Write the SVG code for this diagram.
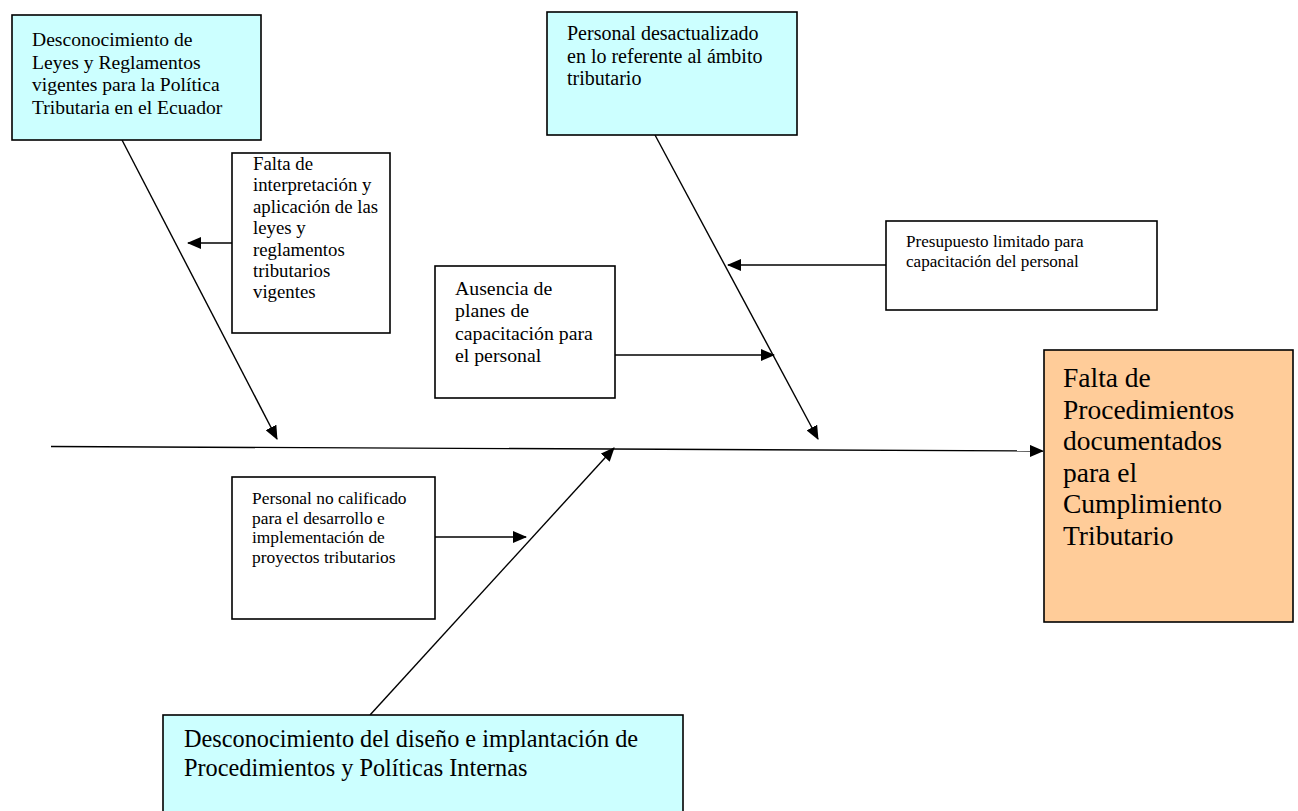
<svg xmlns="http://www.w3.org/2000/svg" width="1298" height="811" viewBox="0 0 1298 811">
<defs>
<marker id="ah" markerUnits="userSpaceOnUse" markerWidth="14" markerHeight="12" refX="13" refY="6" orient="auto">
<path d="M0,0 L14,6 L0,12 Z" fill="#000"/>
</marker>
<style>
.box{stroke:#000;stroke-width:1.6}
.cy{fill:#CCFFFF}
.or{fill:#FFCC99}
.wh{fill:#FFFFFF}
.t{font-family:'Liberation Serif','Times New Roman','DejaVu Serif',serif;fill:#000}
.ln{stroke:#000;stroke-width:1.4;fill:none}
.ar{stroke:#000;stroke-width:1.4;fill:none;marker-end:url(#ah)}
</style>
</defs>
<rect width="1298" height="811" fill="#fff"/>
<g id="connectors">
<line class="ar" x1="51" y1="446.5" x2="1043" y2="451"/>
<line class="ar" x1="122" y1="140" x2="277" y2="439"/>
<line class="ar" x1="655" y1="135" x2="818" y2="439"/>
<line class="ar" x1="370" y1="715" x2="614" y2="448"/>
<line class="ar" x1="232" y1="243" x2="188" y2="243"/>
<line class="ar" x1="886" y1="265" x2="728" y2="265"/>
<line class="ar" x1="615" y1="355" x2="774" y2="355"/>
<line class="ar" x1="435" y1="537" x2="526" y2="537"/>
</g>
<g id="n1">
<rect class="box cy" x="12" y="15" width="249" height="125"/>
<text class="t" font-family="Liberation Serif, serif" font-size="19.6"><tspan x="32" y="46">Desconocimiento de</tspan><tspan x="32" y="68.7">Leyes y Reglamentos</tspan><tspan x="32" y="91.4">vigentes para la Política</tspan><tspan x="32" y="114">Tributaria en el Ecuador</tspan></text>
</g>
<g id="n2">
<rect class="box cy" x="547" y="12" width="250" height="123"/>
<text class="t" font-family="Liberation Serif, serif" font-size="20"><tspan x="567" y="40">Personal desactualizado</tspan><tspan x="567" y="62.5">en lo referente al ámbito</tspan><tspan x="567" y="85">tributario</tspan></text>
</g>
<g id="n3">
<rect class="box wh" x="232" y="153" width="158" height="180"/>
<text class="t" font-family="Liberation Serif, serif" font-size="18.8"><tspan x="253" y="170">Falta de</tspan><tspan x="253" y="191.4">interpretación y</tspan><tspan x="253" y="212.8">aplicación de las</tspan><tspan x="253" y="234.2">leyes y</tspan><tspan x="253" y="255.6">reglamentos</tspan><tspan x="253" y="277">tributarios</tspan><tspan x="253" y="298.4">vigentes</tspan></text>
</g>
<g id="n4">
<rect class="box wh" x="435" y="266" width="180" height="132"/>
<text class="t" font-family="Liberation Serif, serif" font-size="19.8"><tspan x="455" y="295">Ausencia de</tspan><tspan x="455" y="317.3">planes de</tspan><tspan x="455" y="339.6">capacitación para</tspan><tspan x="455" y="362">el personal</tspan></text>
</g>
<g id="n5">
<rect class="box wh" x="886" y="221" width="271" height="89"/>
<text class="t" font-family="Liberation Serif, serif" font-size="17.1"><tspan x="906" y="247">Presupuesto limitado para</tspan><tspan x="906" y="267">capacitación del personal</tspan></text>
</g>
<g id="n6">
<rect class="box or" x="1044" y="350" width="249" height="272"/>
<text class="t" font-family="Liberation Serif, serif" font-size="27.5"><tspan x="1063" y="387">Falta de</tspan><tspan x="1063" y="418.5">Procedimientos</tspan><tspan x="1063" y="450">documentados</tspan><tspan x="1063" y="481.5">para el</tspan><tspan x="1063" y="513">Cumplimiento</tspan><tspan x="1063" y="544.5">Tributario</tspan></text>
</g>
<g id="n7">
<rect class="box wh" x="232" y="477" width="203" height="142"/>
<text class="t" font-family="Liberation Serif, serif" font-size="17.4"><tspan x="252" y="504">Personal no calificado</tspan><tspan x="252" y="523.7">para el desarrollo e</tspan><tspan x="252" y="543.4">implementación de</tspan><tspan x="252" y="563">proyectos tributarios</tspan></text>
</g>
<g id="n8">
<rect class="box cy" x="163" y="715" width="520" height="110"/>
<text class="t" font-family="Liberation Serif, serif" font-size="24.3"><tspan x="184" y="747">Desconocimiento del diseño e implantación de</tspan><tspan x="184" y="776">Procedimientos y Políticas Internas</tspan></text>
</g>
</svg>
